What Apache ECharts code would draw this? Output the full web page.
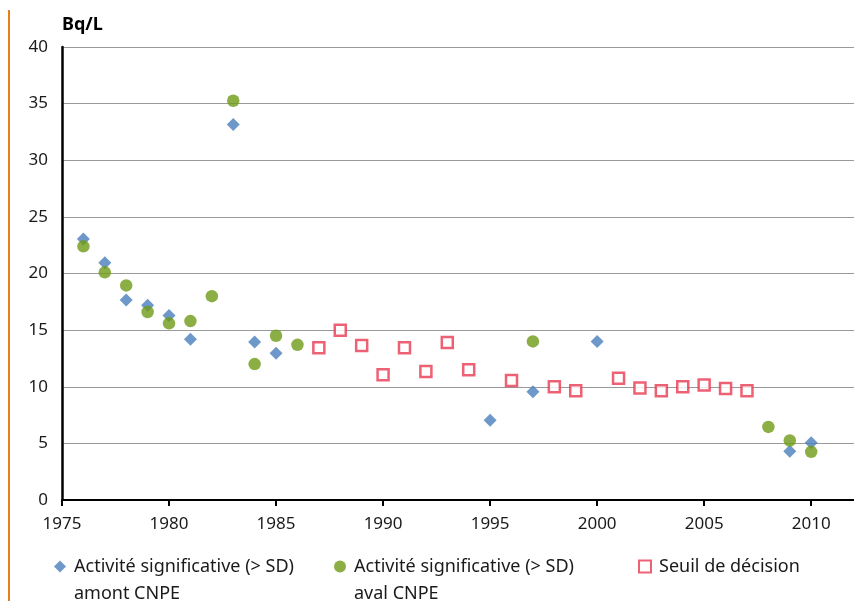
<!DOCTYPE html>
<html>
<head>
<meta charset="utf-8">
<script src="https://cdn.jsdelivr.net/npm/echarts@6/dist/echarts.min.js"></script>
<style>html,body{margin:0;padding:0;background:#fff}#c{width:854px;height:601px}</style>
</head>
<body>
<div id="c"></div>
<script>
// Data
const seriesNames = [
  'Activité significative (> SD) amont CNPE',
  'Activité significative (> SD) aval CNPE',
  'Seuil de décision'
];
const amontYears = [1976, 1977, 1978, 1979, 1980, 1981, 1983, 1984, 1985, 1995, 1997, 2000, 2009, 2010];
const amontValues = [23.05, 20.95, 17.65, 17.2, 16.3, 14.2, 33.15, 13.95, 12.95, 7.05, 9.55, 14.0, 4.3, 5.05];
const avalYears = [1976, 1977, 1978, 1979, 1980, 1981, 1982, 1983, 1984, 1985, 1986, 1997, 2008, 2009, 2010];
const avalValues = [22.4, 20.1, 18.95, 16.6, 15.6, 15.8, 18.0, 35.25, 12.0, 14.5, 13.7, 14.0, 6.45, 5.25, 4.25];
const seuilYears = [1987, 1988, 1989, 1990, 1991, 1992, 1993, 1994, 1996, 1998, 1999, 2001, 2002, 2003, 2004, 2005, 2006, 2007];
const seuilValues = [13.45, 15.0, 13.65, 11.05, 13.45, 11.35, 13.9, 11.5, 10.55, 10.0, 9.65, 10.75, 9.9, 9.65, 10.0, 10.15, 9.85, 9.65];
const yearTicks = [1975, 1980, 1985, 1990, 1995, 2000, 2005, 2010];
const yTicks = [0, 5, 10, 15, 20, 25, 30, 35, 40];
const unitLabel = 'Bq/L';

const pairs = (xs, ys) => xs.map((x, i) => [x, ys[i]]);
const FONT = "'Noto Sans', sans-serif";
const blue = '#4A7EBB', green = '#6E9A17', red = '#E83A52';

const legendFmt = name => {
  const m = name.match(/^(Activité significative \(> SD\)) (.*)$/);
  return m ? ' \n' + m[1] + '\n' + m[2] : name;
};
const legendText = {fontFamily: FONT, fontSize: 18, color: '#1a1a1a', lineHeight: 27, padding: [0, 0, 0, 3]};

const chart = echarts.init(document.getElementById('c'), null, {renderer: 'canvas'});
chart.setOption({
  animation: false,
  backgroundColor: '#fff',
  graphic: [{
    type: 'line', shape: {x1: 9, y1: 10, x2: 9, y2: 601},
    style: {stroke: '#E5801F', lineWidth: 2}
  }],
  grid: {left: 62, top: 47, width: 799, height: 453, containLabel: false},
  legend: [
    {data: [seriesNames[0]], left: 54, top: 526, padding: 0, itemWidth: 12, itemHeight: 12,
     formatter: legendFmt, textStyle: legendText},
    {data: [seriesNames[1]], left: 334, top: 526, padding: 0, itemWidth: 12, itemHeight: 12,
     formatter: legendFmt, textStyle: legendText},
    {data: [seriesNames[2]], left: 638, top: 553, padding: 0, itemWidth: 12, itemHeight: 12,
     formatter: legendFmt, textStyle: legendText}
  ],
  xAxis: {
    type: 'value', min: 1975, max: 2012, interval: 5,
    axisLine: {show: true, lineStyle: {color: '#000', width: 2}},
    axisTick: {show: true, length: 6, lineStyle: {color: '#000', width: 2}},
    splitLine: {show: false},
    axisLabel: {
      showMaxLabel: false, margin: 16, color: '#1a1a1a', fontFamily: FONT, fontSize: 17,
      formatter: v => yearTicks.includes(v) ? String(v) : ''
    }
  },
  yAxis: {
    type: 'value', min: 0, max: 40, interval: 5,
    name: unitLabel, nameLocation: 'end', nameGap: 13,
    nameTextStyle: {fontFamily: FONT, fontSize: 18, fontWeight: 'bold', color: '#000', align: 'left', padding: [0, 0, 0, 0]},
    axisLine: {show: true, lineStyle: {color: '#000', width: 2.5}},
    axisTick: {show: false},
    splitLine: {show: true, lineStyle: {color: '#9a9a9a', width: 1.2}},
    axisLabel: {
      margin: 14, color: '#1a1a1a', fontFamily: FONT, fontSize: 17,
      formatter: v => yTicks.includes(v) ? String(v) : ''
    }
  },
  series: [
    {
      name: seriesNames[0], type: 'scatter', data: pairs(amontYears, amontValues),
      symbol: 'diamond', symbolSize: 13, itemStyle: {color: blue}, z: 3
    },
    {
      name: seriesNames[1], type: 'scatter', data: pairs(avalYears, avalValues),
      symbol: 'circle', symbolSize: 12.5, itemStyle: {color: green}, z: 4
    },
    {
      name: seriesNames[2], type: 'scatter', data: pairs(seuilYears, seuilValues),
      symbol: 'rect', symbolSize: 11, itemStyle: {color: '#fff', borderColor: red, borderWidth: 2.5}, z: 3
    }
  ]
});
</script>
</body>
</html>
